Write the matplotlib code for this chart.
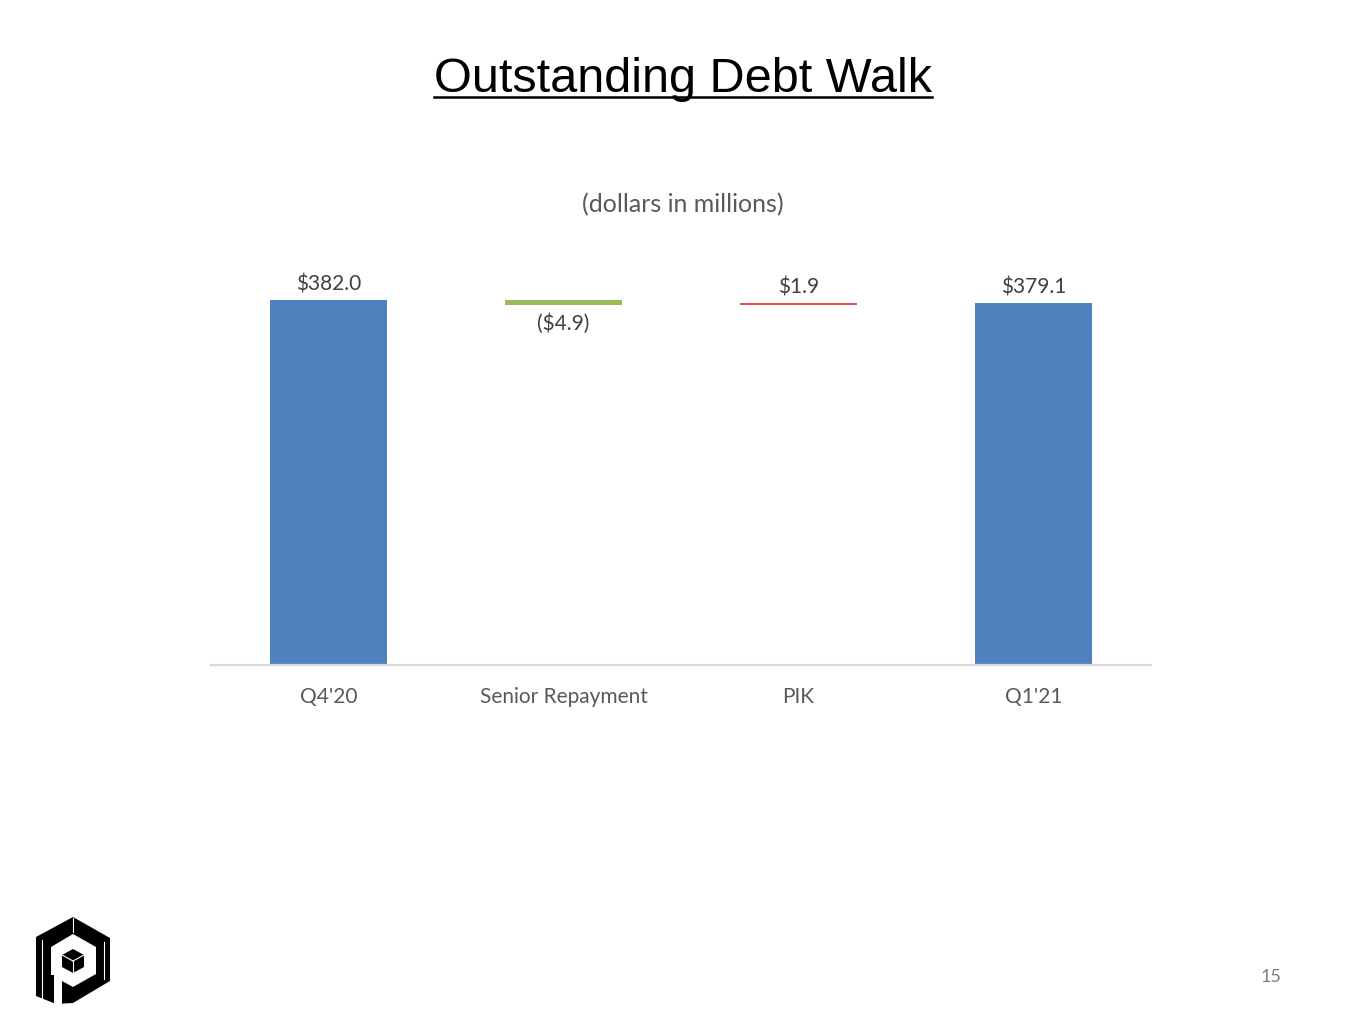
import matplotlib
matplotlib.use('Agg')
import matplotlib.pyplot as plt
from matplotlib.patches import Polygon
from matplotlib.lines import Line2D

W, H = 1365, 1024

categories = ["Q4'20", "Senior Repayment", "PIK", "Q1'21"]
amounts = [382.0, -4.9, 1.9, 379.1]
is_total = [True, False, False, True]
labels = ['$382.0', '($4.9)', '$1.9', '$379.1']

blue, green, red = '#4F81BD', '#9BBB59', '#E0504D'
label_color = '#404040'
tick_color = '#595959'
body_font = ['Lato', 'DejaVu Sans']


def fx(px):
    return px / W


def fy(py):
    return 1 - py / H


fig = plt.figure(figsize=(W / 100, H / 100), dpi=100)
fig.patch.set_facecolor('white')

# plot area: baseline at y=665, x from 211 to 1151
ax_top = 260
ax = fig.add_axes([fx(211), fy(665), fx(1151) - fx(211), (665 - ax_top) / H])
scale = (665 - 300) / 382.0  # px per unit
ax.set_ylim(0, (665 - ax_top) / scale)
ax.set_xlim(-0.5, len(categories) - 0.5)

running = 0
for i, (amt, tot) in enumerate(zip(amounts, is_total)):
    if tot:
        bottom, height, col = 0, amt, blue
        running = amt
    else:
        if amt < 0:
            bottom, height, col = running + amt, -amt, green
        else:
            bottom, height, col = running, amt, red
        running += amt
    ax.bar(i, height, bottom=bottom, width=0.495, color=col, linewidth=0)
    if amt < 0:
        ax.annotate(labels[i], (i, bottom), xytext=(0, -6), textcoords='offset points',
                    ha='center', va='top', fontsize=15, color=label_color, family=body_font)
    else:
        ax.annotate(labels[i], (i, bottom + height), xytext=(0, 4), textcoords='offset points',
                    ha='center', va='bottom', fontsize=15, color=label_color, family=body_font)

for s in ['top', 'right', 'left']:
    ax.spines[s].set_visible(False)
ax.spines['bottom'].set_color('#D9D9D9')
ax.spines['bottom'].set_linewidth(1.6)
ax.set_yticks([])
ax.set_xticks(range(len(categories)))
ax.set_xticklabels(categories, fontsize=15, color=tick_color, family=body_font)
ax.tick_params(axis='x', length=0, pad=16)

# title with underline
title = fig.text(0.5, fy(92), 'Outstanding Debt Walk', ha='center', va='baseline',
                 fontsize=35, family='Liberation Sans', color='black')
fig.text(0.5, fy(205), '(dollars in millions)', ha='center', va='center',
         fontsize=18, color=tick_color, family=body_font)
fig.text(fx(1271), fy(977), '15', ha='center', va='center',
         fontsize=13, color='#7F7F7F', family=body_font)

fig.canvas.draw()
bb = title.get_window_extent(fig.canvas.get_renderer())
fig.add_artist(Line2D([bb.x0 / W, bb.x1 / W], [fy(97), fy(97)], transform=fig.transFigure,
                      color='black', linewidth=1.8))

# logo
def poly(pts, color):
    fig.add_artist(Polygon([(fx(x), fy(y)) for x, y in pts], closed=True,
                           transform=fig.transFigure, facecolor=color, edgecolor='none'))

poly([(36, 937), (73, 917), (110, 938), (110, 981), (73, 1003), (56, 1004), (36, 996)], 'black')
poly([(51, 947), (73, 934), (96, 947), (96, 974), (73, 987), (62, 981), (62, 1006),
      (54, 1006), (54, 975), (51, 975)], 'white')
poly([(73, 949), (84, 955), (84, 967), (73, 973), (62, 967), (62, 955)], 'black')
for seg in [[(73, 961), (62, 955)], [(73, 961), (84, 955)], [(73, 961), (73, 973)],
            [(42, 940), (42, 998)], [(104, 942), (104, 979)], [(73, 918), (73, 932)]]:
    fig.add_artist(Line2D([fx(p[0]) for p in seg], [fy(p[1]) for p in seg],
                          transform=fig.transFigure, color='white', linewidth=0.8))

fig.savefig('out.png', dpi=100, facecolor='white')
